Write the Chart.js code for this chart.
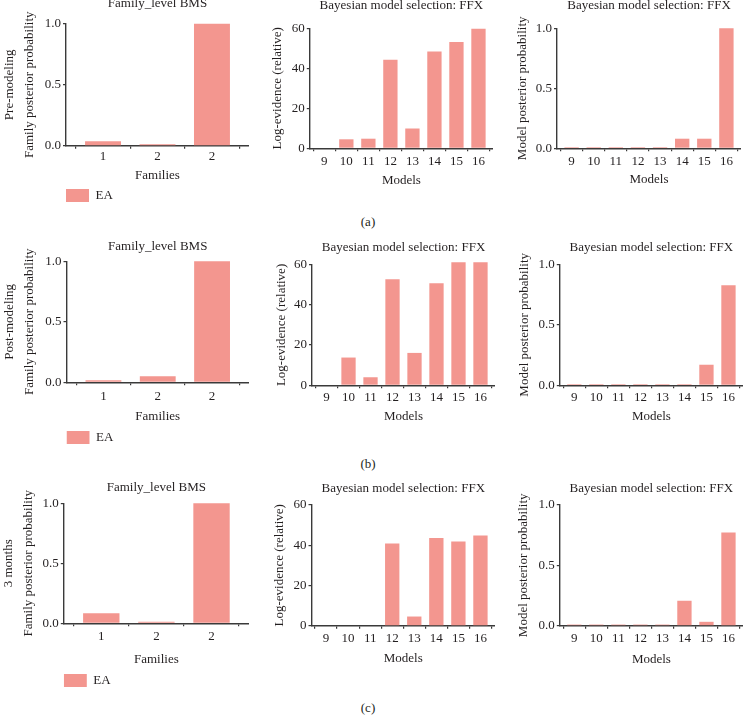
<!DOCTYPE html>
<html>
<head>
<meta charset="utf-8">
<script src="https://cdn.jsdelivr.net/npm/chart.js@4.4.0/dist/chart.umd.min.js"></script>
<style>
html, body { margin: 0; padding: 0; background: #fff; }
body { width: 743px; height: 724px; position: relative; overflow: hidden; font-family: 'Liberation Serif', serif; }
canvas { position: absolute; }
.cap { position: absolute; font-size: 13px; color: #231f20; transform: translate(-50%, -50%); white-space: nowrap; }
</style>
</head>
<body>
<div class="cap" style="left:368px;top:222px">(a)</div>
<div class="cap" style="left:368px;top:464px">(b)</div>
<div class="cap" style="left:368px;top:708px">(c)</div>
<script>
// data
var families = ['1', '2', '2'];
var models = ['9', '10', '11', '12', '13', '14', '15', '16'];

var famPre = [0.038, 0.012, 1.0];
var famPost = [0.016, 0.049, 1.0];
var fam3m = [0.083, 0.013, 1.0];

var logEvPre = [0, 4.5, 4.8, 44.3, 9.9, 48.4, 53.2, 59.8];
var logEvPost = [0, 13.8, 4.0, 52.7, 16.1, 50.7, 61.2, 61.2];
var logEv3m = [0, 0, 0, 40.8, 4.6, 43.5, 41.8, 44.8];

var postPre = [0.01, 0.01, 0.01, 0.01, 0.01, 0.08, 0.08, 1.0];
var postPost = [0.01, 0.01, 0.01, 0.01, 0.01, 0.01, 0.17, 0.826];
var post3m = [0.01, 0.01, 0.01, 0.01, 0.01, 0.207, 0.033, 0.771];

var barColor = '#f3968f';
var axisColor = '#3a3a3a';
var textColor = '#231f20';

Chart.defaults.font.family = "'Liberation Serif', serif";
Chart.defaults.font.size = 13;
Chart.defaults.color = textColor;

var TLH = 13 * 1.2;   // one text line
var YLH2 = 20.5;      // line height of the two line y titles
var LEG_H = 23;       // legend box height (13 + 10)

function panel(c) {
	var multi = Array.isArray(c.yTitle);
	var ylh = multi ? YLH2 : TLH;
	var top = c.titleC - TLH / 2;
	var left = c.yTitleC - ylh / 2;
	var bottom = c.legendTop ? c.legendTop + LEG_H : c.xTitleC + TLH / 2 + 3;
	var width = Math.round(c.R - left);
	var height = Math.round(bottom - top);
	var scaleBottom = top + height - (c.legendTop ? LEG_H : 0);
	var xH = scaleBottom - c.B;
	var xTitlePad = scaleBottom - TLH / 2 - c.xTitleC;
	var yW = c.L - left;

	var cv = document.createElement('canvas');
	cv.width = width;
	cv.height = height;
	cv.style.left = left + 'px';
	cv.style.top = top + 'px';
	document.body.appendChild(cv);

	var points = c.values.map(function(v, i) {
		return { x: i, y: v };
	});

	var grid = { display: true, drawOnChartArea: false, drawTicks: true, tickLength: 3, color: axisColor, lineWidth: 1.2 };
	var border = { display: true, color: axisColor, width: 1.4 };

	return new Chart(cv, {
		type: 'bar',
		data: {
			datasets: [ {
				label: 'EA',
				data: points,
				backgroundColor: barColor,
				borderWidth: 0,
				barPercentage: c.barPct,
				categoryPercentage: 1,
				clip: false
			} ]
		},
		options: {
			responsive: false,
			animation: false,
			events: [],
			layout: { padding: 0 },
			plugins: {
				title: {
					display: true,
					text: c.title,
					fullSize: false,
					color: textColor,
					font: { size: 13, weight: 'normal', lineHeight: 1.2 },
					padding: { top: 0, bottom: c.T - c.titleC - TLH / 2 }
				},
				legend: {
					display: !!c.legendTop,
					position: 'bottom',
					align: 'start',
					fullSize: false,
					labels: { boxWidth: 23, boxHeight: 13, padding: 0, color: textColor, font: { size: 13 } }
				},
				tooltip: { enabled: false }
			},
			scales: {
				x: {
					type: 'linear',
					min: c.xMin,
					max: c.xMax,
					offset: false,
					grid: grid,
					border: border,
					ticks: {
						padding: c.tickPad,
						autoSkip: false,
						maxRotation: 0,
						callback: function(v) { return c.labels[v]; }
					},
					title: {
						display: true,
						text: c.xTitle,
						color: textColor,
						font: { size: 13, lineHeight: 1.2 },
						padding: { top: 0, bottom: xTitlePad }
					},
					afterBuildTicks: function(s) {
						s.ticks = c.labels.map(function(l, i) { return { value: i }; });
					},
					afterFit: function(s) { s.height = xH; }
				},
				y: {
					min: 0,
					max: c.yMax,
					grid: grid,
					border: border,
					ticks: {
						stepSize: c.yStep,
						padding: 2,
						callback: c.yFmt
					},
					title: {
						display: true,
						text: c.yTitle,
						color: textColor,
						font: { size: 13, lineHeight: ylh / 13 },
						padding: 0
					},
					afterFit: function(s) { s.width = yW; }
				}
			}
		}
	});
}

var prob = function(v) { return v.toFixed(1); };
var plain = function(v) { return v; };

var famBase = { labels: families, xMin: -0.68, xMax: 2.68, barPct: 0.66, xTitle: 'Families',
	title: 'Family_level BMS', yMax: 1, yStep: 0.5, yFmt: prob };
var evBase = { labels: models, xMin: -0.66, xMax: 7.66, barPct: 0.65, xTitle: 'Models',
	title: 'Bayesian model selection: FFX', yTitle: 'Log-evidence (relative)', yMax: 60, yStep: 20, yFmt: plain };
var postBase = { labels: models, xMin: -0.66, xMax: 7.66, barPct: 0.65, xTitle: 'Models',
	title: 'Bayesian model selection: FFX', yTitle: 'Model posterior probability', yMax: 1, yStep: 0.5, yFmt: prob };

function ext(base, more) {
	return Object.assign({}, base, more);
}

// row (a) pre-modeling
panel(ext(famBase, { values: famPre, yTitle: ['Pre-modeling', 'Family posterior probability'],
	L: 66, R: 249, T: 24, B: 146, titleC: 4, xTitleC: 175.5, yTitleC: 9.25, legendTop: 189, tickPad: 0 }));
panel(ext(evBase, { values: logEvPre, L: 310, R: 493, T: 28, B: 148, titleC: 5.5, xTitleC: 180, yTitleC: 278, tickPad: 2 }));
panel(ext(postBase, { values: postPre, L: 556.7, R: 741, T: 28, B: 148, titleC: 5.5, xTitleC: 179.5, yTitleC: 522.5, tickPad: 2 }));

// row (b) post-modeling
panel(ext(famBase, { values: famPost, yTitle: ['Post-modeling', 'Family posterior probability'],
	L: 66, R: 248.5, T: 261, B: 382, titleC: 246.5, xTitleC: 416.5, yTitleC: 8.75, legendTop: 431, tickPad: 3 }));
panel(ext(evBase, { values: logEvPost, L: 311.7, R: 495, T: 264.3, B: 385, titleC: 247.5, xTitleC: 416, yTitleC: 281.5, tickPad: 1 }));
panel(ext(postBase, { values: postPost, L: 560, R: 743, T: 264, B: 385, titleC: 247.5, xTitleC: 416, yTitleC: 525, tickPad: 1 }));

// row (c) 3 months
panel(ext(famBase, { values: fam3m, yTitle: ['3 months', 'Family posterior probability'],
	L: 63.3, R: 248, T: 503, B: 623, titleC: 487.5, xTitleC: 659, yTitleC: 7.75, legendTop: 674, tickPad: 2 }));
panel(ext(evBase, { values: logEv3m, L: 311.7, R: 495, T: 505, B: 626, titleC: 489, xTitleC: 659, yTitleC: 280, tickPad: 2 }));
panel(ext(postBase, { values: post3m, L: 560, R: 743, T: 505, B: 626, titleC: 489, xTitleC: 659.5, yTitleC: 524, tickPad: 2 }));
</script>
</body>
</html>
